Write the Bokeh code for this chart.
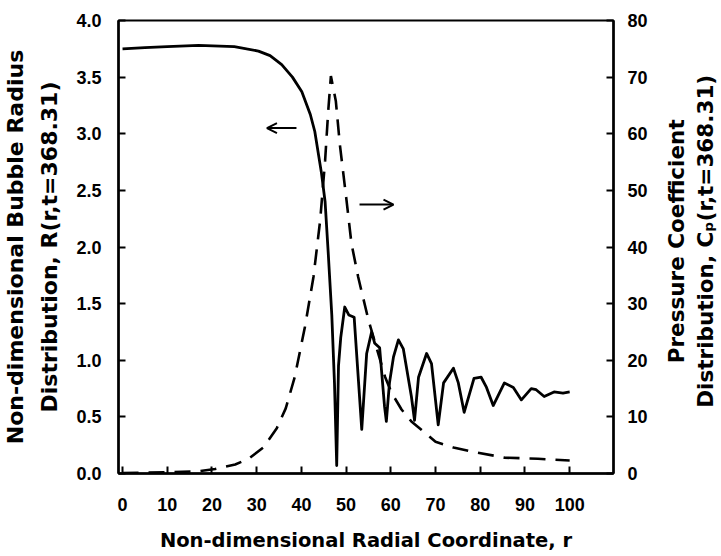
import math
from bokeh.plotting import figure
from bokeh.layouts import row
from bokeh.models import (Range1d, LinearAxis, FixedTicker, PrintfTickFormatter,
                          Arrow, OpenHead)
from bokeh.core.properties import value
from bokeh.embed import file_html
from bokeh.resources import INLINE

# ---- data ----
r_R = [0, 5, 10, 17, 25, 30.4, 33, 35.6, 38, 40.1, 42, 43, 44.5, 45.3, 46.0,
       46.8, 47.4, 47.9, 48.3, 48.8, 49.7, 50.6, 51.8, 53.5, 54.6, 55.7, 56.4,
       57.5, 58.6, 59.0, 59.7, 60.6, 61.7, 62.8, 64.6, 65.3, 66.2, 68.0, 69.1,
       70.6, 71.8, 74.0, 75.1, 76.4, 78.6, 80.2, 81.4, 82.9, 85.4, 87.4, 89.2,
       91.4, 92.5, 94.3, 96.5, 98.5, 100.0]
R_vals = [3.75, 3.76, 3.77, 3.78, 3.77, 3.73, 3.69, 3.61, 3.50, 3.37, 3.17,
          3.02, 2.65, 2.40, 1.95, 1.40, 0.80, 0.07, 0.95, 1.20, 1.47, 1.40,
          1.38, 0.39, 1.06, 1.25, 1.15, 1.11, 0.59, 0.46, 0.80, 1.03, 1.18,
          1.10, 0.68, 0.47, 0.85, 1.06, 0.97, 0.43, 0.80, 0.93, 0.80, 0.54,
          0.84, 0.85, 0.76, 0.60, 0.80, 0.76, 0.65, 0.75, 0.74, 0.68, 0.72,
          0.71, 0.72]

r_C = [0, 10, 17, 20.7, 25.2, 28.2, 31.5, 34.5, 36.5, 38.5, 40.8, 42.7, 44.2,
       45.3, 46.0, 46.6, 47.7, 48.6, 50.1, 51.2, 52.7, 55.0, 58.7, 60.2, 62.4,
       64.6, 66.9, 70.0, 74.0, 78.0, 85.4, 92.9, 100.0]
Cp_vals = [0.1, 0.2, 0.4, 0.8, 1.6, 2.6, 4.6, 8.0, 11.5, 17.0, 25.9, 34.7,
           44.7, 55.2, 64.0, 70.2, 65.8, 58.1, 48.2, 40.6, 34.7, 27.1, 17.1,
           14.2, 11.3, 9.2, 7.7, 5.6, 4.6, 3.9, 2.8, 2.6, 2.3]

x_ticks = [0, 10, 20, 30, 40, 50, 60, 70, 80, 90, 100, 110]
R_ticks = [0.0, 0.5, 1.0, 1.5, 2.0, 2.5, 3.0, 3.5, 4.0]
Cp_ticks = [0, 10, 20, 30, 40, 50, 60, 70, 80]

right_title = ["Pressure Coefficient", "Distribution, C\u209a(r,t=368.31)"]

# arrows: (r_start, r_end, R level)
arrow_left = [38.9, 32.3, 3.05]
arrow_right = [53.0, 60.6, 2.375]

FONT = "Liberation Sans"
TFONT = "DejaVu Sans"
W_MAIN, W_SIDE, H = 650, 71, 556

p = figure(width=W_MAIN, height=H, output_backend="svg", toolbar_location=None,
           x_range=Range1d(-0.9, 109.8), y_range=Range1d(0, 4.0),
           min_border_left=117, min_border_right=37, min_border_top=20,
           min_border_bottom=83)
p.extra_y_ranges = {"cp": Range1d(0, 80)}

p.xgrid.visible = False
p.ygrid.visible = False
p.outline_line_color = "black"
p.outline_line_width = 2
p.background_fill_color = "white"
p.border_fill_color = "white"

def style_axis(ax, standoff):
    ax.axis_line_width = 2.5
    ax.axis_line_color = "black"
    ax.major_tick_in = 7
    ax.major_tick_out = 0
    ax.major_tick_line_width = 2
    ax.minor_tick_line_color = None
    ax.major_label_text_font = FONT
    ax.major_label_text_font_style = "bold"
    ax.major_label_text_font_size = "18px"
    ax.major_label_text_color = "black"
    ax.major_label_standoff = standoff
    ax.axis_label_text_font = TFONT
    ax.axis_label_text_font_style = "bold"
    ax.axis_label_text_font_size = "19.5px"
    ax.axis_label_text_color = "black"

xa = p.xaxis[0]
style_axis(xa, 24)
xa.ticker = FixedTicker(ticks=x_ticks)
xa.axis_label = "Non-dimensional Radial Coordinate, r"
xa.axis_label_standoff = 15

ya = p.yaxis[0]
style_axis(ya, 17)
ya.ticker = FixedTicker(ticks=R_ticks)
ya.formatter = PrintfTickFormatter(format="%.1f")
ya.axis_label = "Non-dimensional Bubble Radius\nDistribution, R(r,t=368.31)"
ya.axis_label_text_font_size = "22px"
ya.axis_label_standoff = 11
ya.axis_label_text_line_height = 1.36

ra = LinearAxis(y_range_name="cp")
style_axis(ra, 14)
ra.ticker = FixedTicker(ticks=Cp_ticks)
p.add_layout(ra, "right")

p.line(r_R, R_vals, line_color="black", line_width=2.8, line_join="round")
p.line(r_C, Cp_vals, y_range_name="cp", line_color="black", line_width=2.6,
       line_dash="16 10")

p.add_layout(Arrow(end=OpenHead(size=10, line_width=2, line_color="black"),
                   x_start=arrow_left[0], x_end=arrow_left[1],
                   y_start=arrow_left[2], y_end=arrow_left[2],
                   line_width=2, line_color="black"))
p.add_layout(Arrow(end=OpenHead(size=10, line_width=2, line_color="black"),
                   x_start=arrow_right[0], x_end=arrow_right[1],
                   y_start=arrow_right[2], y_end=arrow_right[2],
                   line_width=2, line_color="black"))

# side panel holding the right-hand title (reads bottom-to-top)
side = figure(width=W_SIDE, height=H, output_backend="svg", toolbar_location=None,
              x_range=Range1d(0, W_SIDE), y_range=Range1d(0, H),
              x_axis_type=None, y_axis_type=None,
              min_border_left=0, min_border_right=0, min_border_top=0,
              min_border_bottom=0)
side.outline_line_color = None
side.xgrid.visible = False
side.ygrid.visible = False
side.background_fill_color = "white"
side.border_fill_color = "white"
side.text(x=[26, 55], y=[H - 271, H - 271], text=right_title,
          angle=math.pi / 2, text_align="center", text_baseline="middle",
          text_font=value(TFONT), text_font_style="bold",
          text_font_size="21.5px", text_color="black")

layout = row(p, side, spacing=0)
open("out.html", "w").write(file_html(layout, INLINE))
